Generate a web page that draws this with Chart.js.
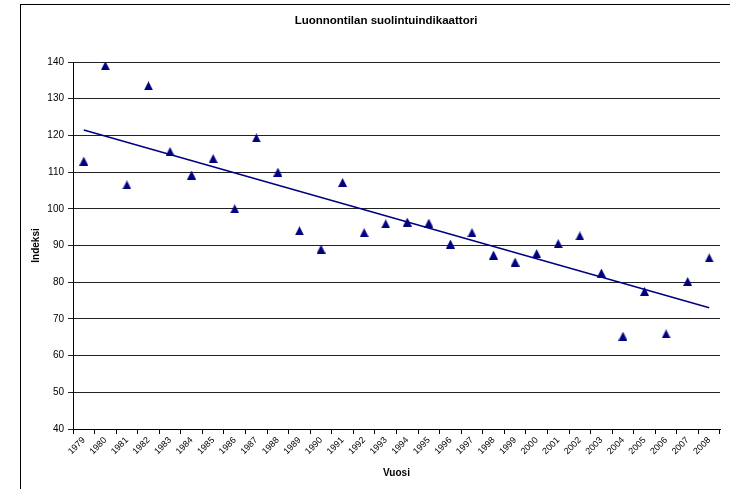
<!DOCTYPE html>
<html>
<head>
<meta charset="utf-8">
<title>Luonnontilan suolintuindikaattori</title>
<script src="https://cdn.jsdelivr.net/npm/chart.js@4.4.1/dist/chart.umd.min.js"></script>
<style>
  html, body { margin: 0; padding: 0; background: #fff; overflow: hidden; }
  #wrap { position: relative; width: 730px; height: 489px; }
  #c { position: absolute; left: 0; top: 0; }
  /* outer chart frame, running off the right and bottom edges */
  #frame { position: absolute; left: 20px; top: 4px; width: 800px; height: 600px;
           border-left: 1px solid #000; border-top: 1px solid #000; pointer-events: none; }
</style>
</head>
<body>
<div id="wrap">
  <canvas id="c" width="730" height="489"></canvas>
  <div id="frame"></div>
</div>
<script>
// Survey years
const years = [
  '1979', '1980', '1981', '1982', '1983', '1984', '1985', '1986', '1987', '1988',
  '1989', '1990', '1991', '1992', '1993', '1994', '1995', '1996', '1997', '1998',
  '1999', '2000', '2001', '2002', '2003', '2004', '2005', '2006', '2007', '2008'
];

// Mire bird index per year
const indexValues = [
  113.0, 139.0, 106.5, 133.5, 115.6, 109.2, 113.7, 100.0, 119.3, 110.0,
   94.0,  89.0, 107.2,  93.5,  95.9,  96.4,  96.1,  90.4,  93.5,  87.4,
   85.5,  87.8,  90.5,  92.6,  82.5,  65.3,  77.5,  65.9,  80.2,  86.6
];

// Y axis range and step
const yMin = 40;
const yMax = 140;
const yStep = 10;

const chartTitle = 'Luonnontilan suolintuindikaattori';
const xTitle = 'Vuosi';
const yTitle = 'Indeksi';

// Least-squares linear trend over the series, drawn from first to last year
function linearTrend(vals) {
  const n = vals.length;
  const mx = (n - 1) / 2;
  const my = vals.reduce((s, v) => s + v, 0) / n;
  let sxy = 0, sxx = 0;
  vals.forEach((v, i) => { sxy += (i - mx) * (v - my); sxx += (i - mx) * (i - mx); });
  const slope = sxy / sxx;
  const icpt = my - slope * mx;
  return vals.map((_, i) => (i === 0 || i === n - 1) ? icpt + slope * i : null);
}
const trendValues = linearTrend(indexValues);

// Filled triangle marker
const NAVY = '#000080';
const marker = document.createElement('canvas');
marker.width = 9; marker.height = 9;
(function () {
  const g = marker.getContext('2d');
  g.fillStyle = NAVY;
  g.beginPath();
  g.moveTo(4.5, 0);
  g.lineTo(9, 9);
  g.lineTo(0, 9);
  g.closePath();
  g.fill();
})();

const FONT = '"Liberation Sans", Arial, Helvetica, sans-serif';
Chart.defaults.font.family = FONT;
Chart.defaults.color = '#000';

const titlePlugin = {
  id: 'chartTitle',
  afterDraw(chart) {
    const ctx = chart.ctx;
    ctx.save();
    ctx.font = 'bold 11.5px ' + FONT;
    ctx.fillStyle = '#000';
    ctx.textAlign = 'center';
    ctx.textBaseline = 'middle';
    ctx.fillText(chartTitle, 386, 21);
    ctx.restore();
  }
};

new Chart(document.getElementById('c'), {
  type: 'line',
  data: {
    labels: years,
    datasets: [
      {
        label: 'Indeksi',
        data: indexValues,
        showLine: false,
        pointStyle: marker,
        pointRadius: 5,
        borderColor: NAVY,
        backgroundColor: NAVY,
        order: 1
      },
      {
        label: 'Trendi',
        data: trendValues,
        spanGaps: true,
        borderColor: NAVY,
        borderWidth: 1.5,
        pointRadius: 0,
        fill: false,
        tension: 0,
        order: 2
      }
    ]
  },
  options: {
    responsive: false,
    animation: false,
    devicePixelRatio: 1,
    layout: { padding: { left: 0, right: 10, top: 62, bottom: 0 } },
    plugins: {
      legend: { display: false },
      tooltip: { enabled: false },
      title: { display: false }
    },
    scales: {
      x: {
        type: 'category',
        offset: true,
        grid: { offset: true, drawOnChartArea: false, drawTicks: true, tickLength: 5, color: '#000', lineWidth: 1 },
        border: { color: '#000', width: 1 },
        ticks: {
          autoSkip: false, minRotation: 45, maxRotation: 45,
          font: { size: 9 }, color: '#000', padding: 1
        },
        title: {
          display: true, text: xTitle, color: '#000',
          font: { size: 10, weight: 'bold' }, padding: { top: 0, bottom: 10 }
        },
        afterFit(scale) { scale.height = 60; }
      },
      y: {
        min: yMin,
        max: yMax,
        ticks: { stepSize: yStep, font: { size: 10 }, color: '#000', padding: 4 },
        grid: { color: '#222', lineWidth: 1, drawTicks: true, tickLength: 5 },
        border: { color: '#000', width: 1 },
        title: {
          display: true, text: yTitle, color: '#000',
          font: { size: 10, weight: 'bold' }, padding: { top: 30, bottom: 0 }
        },
        afterFit(scale) { scale.width = 73; }
      }
    }
  },
  plugins: [titlePlugin]
});
</script>
</body>
</html>
